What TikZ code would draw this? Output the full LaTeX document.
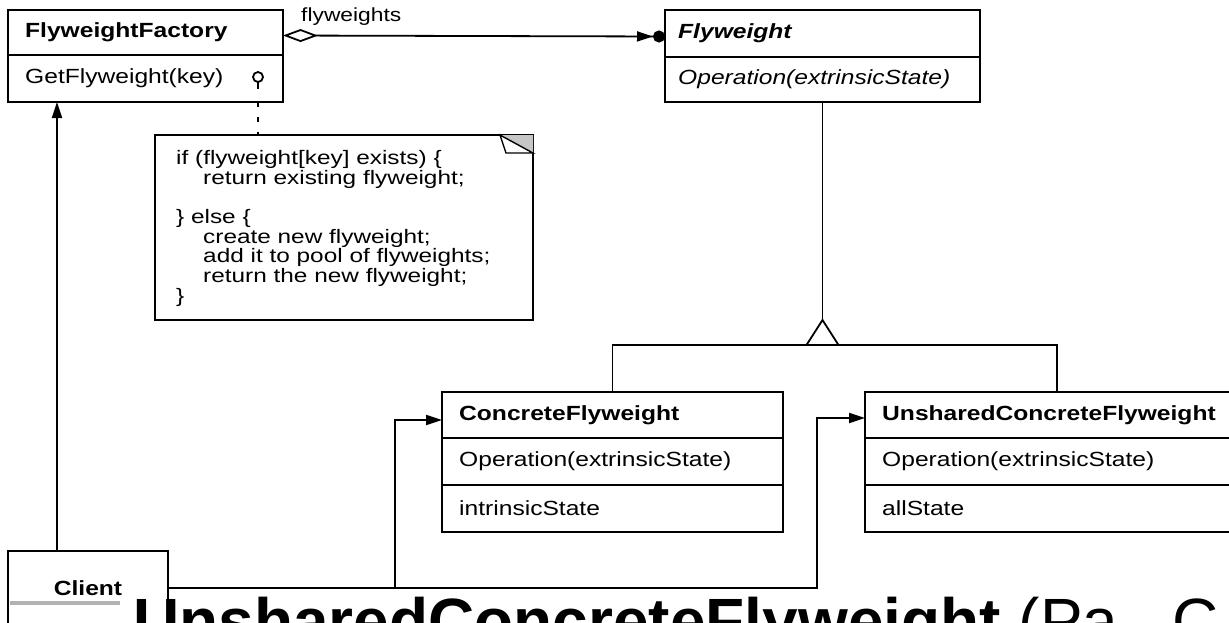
\documentclass[tikz,border=0pt]{standalone}
\usepackage{fontspec}
\setmainfont{Liberation Sans}
\newfontfamily\boxfont[FakeStretch=1.2]{Liberation Sans}
\newfontfamily\notefont[FakeStretch=1.25]{Liberation Sans}
\usetikzlibrary{arrows.meta}

\begin{document}
\begin{tikzpicture}[x=1pt,y=-1pt,
  comp/.style={draw, line width=2pt, anchor=north west, inner sep=0pt, outer sep=0pt},
  ttl/.style={anchor=west, inner sep=0pt, font={\boxfont\fontsize{20.5pt}{24pt}\selectfont\bfseries}},
  opn/.style={anchor=west, inner sep=0pt, font={\boxfont\fontsize{20.5pt}{24pt}\selectfont}},
  conn/.style={line width=1.8pt},
  arr/.style={conn, -{Triangle[length=16pt,width=10pt]}},
]
\useasboundingbox (0,0) rectangle (1229,622);
\clip (0,0) rectangle (1229,622);
\fill[white] (0,0) rectangle (1229,622);

% FlyweightFactory
\node[comp, minimum width=275pt, minimum height=45pt] (fft) at (8,10) {};
\node[comp, minimum width=275pt, minimum height=47pt] (ffo) at (fft.south west) {};
\node[ttl] (fftl) at ([xshift=17pt]fft.west) {FlyweightFactory};
\node[opn] (ffol) at ([xshift=17pt]ffo.west) {GetFlyweight(key)};

% Flyweight
\node[comp, minimum width=315pt, minimum height=47pt] (fwt) at (665,10) {};
\node[comp, minimum width=315pt, minimum height=45pt] (fwo) at (fwt.south west) {};
\node[ttl, font={\boxfont\fontsize{20.5pt}{24pt}\selectfont\bfseries\itshape}] (fwtl) at ([xshift=13pt]fwt.west) {Flyweight};
\node[opn, font={\boxfont\fontsize{20.5pt}{24pt}\selectfont\itshape}] (fwol) at ([xshift=13pt]fwo.west) {Operation(extrinsicState)};

% ConcreteFlyweight
\node[comp, minimum width=341pt, minimum height=46pt] (cft) at (442,392) {};
\node[comp, minimum width=341pt, minimum height=47pt] (cfo) at (cft.south west) {};
\node[comp, minimum width=341pt, minimum height=47pt] (cfa) at (cfo.south west) {};
\node[ttl] (cftl) at ([xshift=17pt]cft.west) {ConcreteFlyweight};
\node[opn] (cfol) at ([xshift=17pt]cfo.west) {Operation(extrinsicState)};
\node[opn] (cfal) at ([xshift=17pt]cfa.west) {intrinsicState};

% UnsharedConcreteFlyweight
\node[comp, minimum width=384pt, minimum height=46pt] (uct) at (865,392) {};
\node[comp, minimum width=384pt, minimum height=47pt] (uco) at (uct.south west) {};
\node[comp, minimum width=384pt, minimum height=47pt] (uca) at (uco.south west) {};
\node[ttl] (uctl) at ([xshift=17pt]uct.west) {UnsharedConcreteFlyweight};
\node[opn] (ucol) at ([xshift=17pt]uco.west) {Operation(extrinsicState)};
\node[opn] (ucal) at ([xshift=17pt]uca.west) {allState};

% Client
\node[comp, minimum width=160pt, minimum height=74pt,
      font={\boxfont\fontsize{20.5pt}{24pt}\selectfont\bfseries}] (cli) at (8,551) {Client};

% Note with folded corner
\node[draw, line width=1.8pt, anchor=north west, inner sep=0pt, outer sep=0pt,
      minimum width=378pt, minimum height=185pt] (note) at (155,135) {};
\fill[gray!45] (500,135) -- (533,135) -- (533,153) -- cycle;
\draw[line width=1.4pt, fill=white] (500,135) -- (506,153) -- (533,153) -- cycle;
\node[anchor=north west, inner sep=0pt, align=left,
      font={\notefont\fontsize{19.5pt}{19.7pt}\selectfont}] (notetext) at (176,150)
  {if (flyweight[key] exists) \{\\
   \hspace*{27pt}return existing flyweight;\\[19.7pt]
   \} else \{\\
   \hspace*{27pt}create new flyweight;\\
   \hspace*{27pt}add it to pool of flyweights;\\
   \hspace*{27pt}return the new flyweight;\\
   \}};

% Lollipop on GetFlyweight and dashed link to the note
\coordinate (pin) at (258,89);
\draw[conn] (258,82) -- (pin);
\draw[conn, fill=white] (258,77) circle (5);
\draw[conn, dash pattern=on 5pt off 10pt] (ffo.south -| pin) -- (note.north -| pin);

% Aggregation FlyweightFactory -> Flyweight
\draw[conn, {Diamond[open,length=35pt,width=13pt,line width=1.8pt]}-{Triangle[length=16pt,width=10pt]Circle[length=12pt]}]
  ([yshift=-3pt]fft.east) -- ([yshift=-3pt]fwt.west);
\node[anchor=west, inner sep=0pt, font={\boxfont\fontsize{19pt}{22pt}\selectfont}] (aggl) at (301,17) {flyweights};

% Generalization
\coordinate (lvl) at (0,320);
\coordinate (apex) at (fwo.south |- lvl);
\coordinate (bar) at ([yshift=-25pt]apex);
\draw[conn] (fwo.south) -- (apex);
\draw[conn, line join=miter] (apex) -- ++(-16,25) -- ++(32,0) -- cycle;
\draw[conn] (cft.north) |- (bar) -| (uct.north);

% Client references
\coordinate (j1) at (395,420);
\coordinate (j2) at (817,418);
\draw[arr] ([xshift=49pt]cli.north west) -- ([xshift=49pt]ffo.south west);
\draw[arr] (cli.east) -| (j1) -- (j1 -| cft.west);
\draw[arr] (cli.east) -| (j2) -- (j2 -| uct.west);

% Caption strip along the bottom edge
\draw[gray!60, line width=4pt] (10,603) -- (120,603);
\node[anchor=base west, inner sep=0pt, font={\fontsize{64pt}{70pt}\selectfont}] (cap) at (133,643)
  {\textbf{UnsharedConcreteFlyweight} (Pa\hspace{0.85em}C};
\end{tikzpicture}
\end{document}
